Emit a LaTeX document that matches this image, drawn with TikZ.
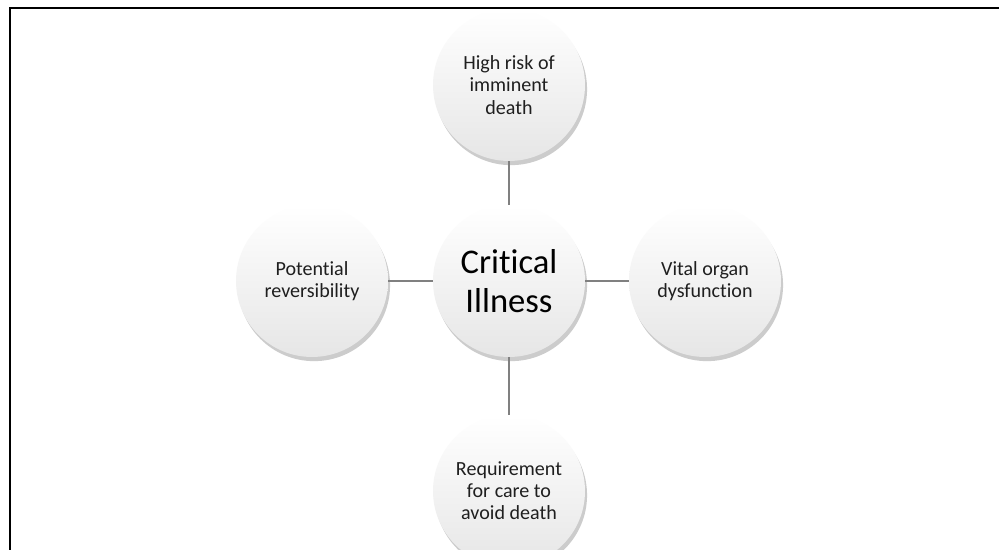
\documentclass[tikz,border=0pt]{standalone}
\usepackage{fontspec}
\setmainfont[Ligatures=NoCommon]{Carlito}
\usetikzlibrary{shadows}
\definecolor{linegray}{HTML}{808080}
\definecolor{textdark}{HTML}{1F1F1F}
\definecolor{ballgray}{HTML}{E6E6E6}

\begin{document}
\begin{tikzpicture}[x=0.254mm, y=-0.254mm,
    bubble/.style={circle, minimum size=3.86cm, inner sep=0pt, align=center,
                   top color=white, middle color=white, bottom color=ballgray, text=textdark,
                   font=\fontsize{14.5}{16}\selectfont,
                   drop shadow={shadow xshift=1.5pt, shadow yshift=-3pt, opacity=0.4}},
    hub/.style={bubble, font=\fontsize{25}{28}\selectfont, text=black},
    conn/.style={line width=2pt, color=linegray}
]

% --- page and frame ---
\fill[white] (0,0) rectangle (999,550);
\clip (0,0) rectangle (999,550);
\draw[line width=1.5pt, black] (10,552) -- (10,8) -- (1001,8);

% --- centre ---
\node[hub] (ill) at (509,281) {Critical\\Illness};

% --- criteria ---
\node[bubble] (risk)  at (509, 85) {High risk of\\imminent\\death};
\node[bubble] (organ) at (705,281) {Vital organ\\dysfunction};
\node[bubble] (care)  at (509,491) {Requirement\\for care to\\avoid death};
\node[bubble] (rev)   at (312,281) {Potential\\reversibility};

% --- connections ---
\draw[conn] (ill) -- (risk);
\draw[conn] (ill) -- (organ);
\draw[conn] (ill) -- (care);
\draw[conn] (ill) -- (rev);

\end{tikzpicture}
\end{document}
